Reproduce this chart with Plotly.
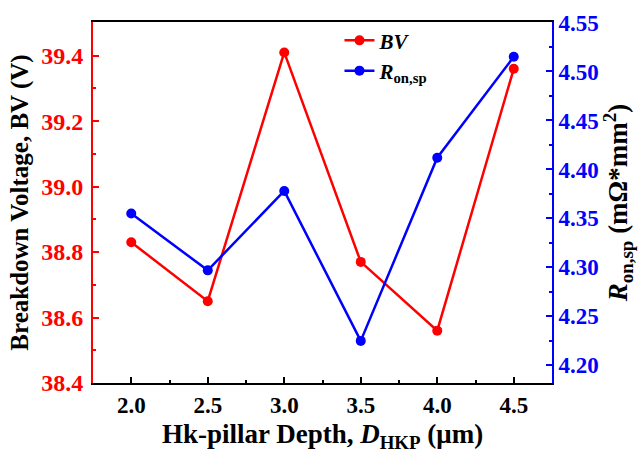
import plotly.graph_objects as go

depth = [2.0, 2.5, 3.0, 3.5, 4.0, 4.5]
bv = [38.83, 38.65, 39.41, 38.77, 38.56, 39.36]
ron = [4.355, 4.297, 4.378, 4.225, 4.412, 4.515]

FONT = "Liberation Serif, Times New Roman, serif"

fig = go.Figure()
fig.add_trace(go.Scatter(x=depth, y=bv, mode="lines+markers", name="<i>BV</i>",
                         line=dict(color="#ff0000", width=2.5),
                         marker=dict(color="#ff0000", size=10), yaxis="y"))
fig.add_trace(go.Scatter(x=depth, y=ron, mode="lines+markers",
                         name="<i>R</i><sub>on,sp</sub>",
                         line=dict(color="#0000ff", width=2.5),
                         marker=dict(color="#0000ff", size=10), yaxis="y2"))

fig.update_layout(
    width=639, height=459,
    margin=dict(l=93, r=87, t=11, b=76),
    paper_bgcolor="white", plot_bgcolor="white",
    font=dict(family=FONT, size=18, color="black", weight="bold"),
    showlegend=True,
    legend=dict(x=0.537, y=1.005, xanchor="left", yanchor="top",
                bgcolor="rgba(0,0,0,0)", font=dict(size=21, family=FONT, weight="bold"),
                tracegroupgap=0, itemwidth=30),
    xaxis=dict(range=[1.75, 4.75], tick0=2.0, dtick=0.5, tickformat=".1f",
               showline=True, linecolor="black", linewidth=2, mirror=True,
               ticks="inside", ticklen=6, tickwidth=2, tickcolor="black",
               minor=dict(ticks="inside", ticklen=3, tickwidth=2, tickcolor="black", dtick=0.25),
               showgrid=False, zeroline=False,
               tickfont=dict(size=23, color="black", family=FONT, weight="bold"),
               title=dict(text="Hk-pillar Depth, <i>D</i><sub>HKP</sub> (μm)",
                          font=dict(size=27, color="black", family=FONT, weight="bold"),
                          standoff=8)),
    yaxis=dict(range=[38.4, 39.503], tick0=38.4, dtick=0.2, tickformat=".1f",
               showline=True, linecolor="#ff0000", linewidth=2,
               ticks="inside", ticklen=6, tickwidth=2, tickcolor="#ff0000",
               minor=dict(ticks="inside", ticklen=3, tickwidth=2, tickcolor="#ff0000", dtick=0.1),
               showgrid=False, zeroline=False, ticklabelstandoff=3,
               tickfont=dict(size=24, color="#ff0000", family=FONT, weight="bold"),
               title=dict(text="Breakdown Voltage, BV (V)",
                          font=dict(size=25, color="black", family=FONT, weight="bold"),
                          standoff=5)),
    yaxis2=dict(range=[4.182, 4.5505], tick0=4.2, dtick=0.05, tickformat=".2f",
                overlaying="y", side="right",
                showline=True, linecolor="#0000ff", linewidth=2,
                ticks="inside", ticklen=6, tickwidth=2, tickcolor="#0000ff",
                minor=dict(ticks="inside", ticklen=3, tickwidth=2, tickcolor="#0000ff", dtick=0.025),
                showgrid=False, zeroline=False,
                tickfont=dict(size=23, color="#0000ff", family=FONT, weight="bold"),
                title=dict(text="<i>R</i><sub>on,sp</sub> (mΩ*mm<sup>2</sup>)",
                           font=dict(size=27, color="black", family=FONT, weight="bold"),
                           standoff=6)),
)

fig.write_html("out.html")
